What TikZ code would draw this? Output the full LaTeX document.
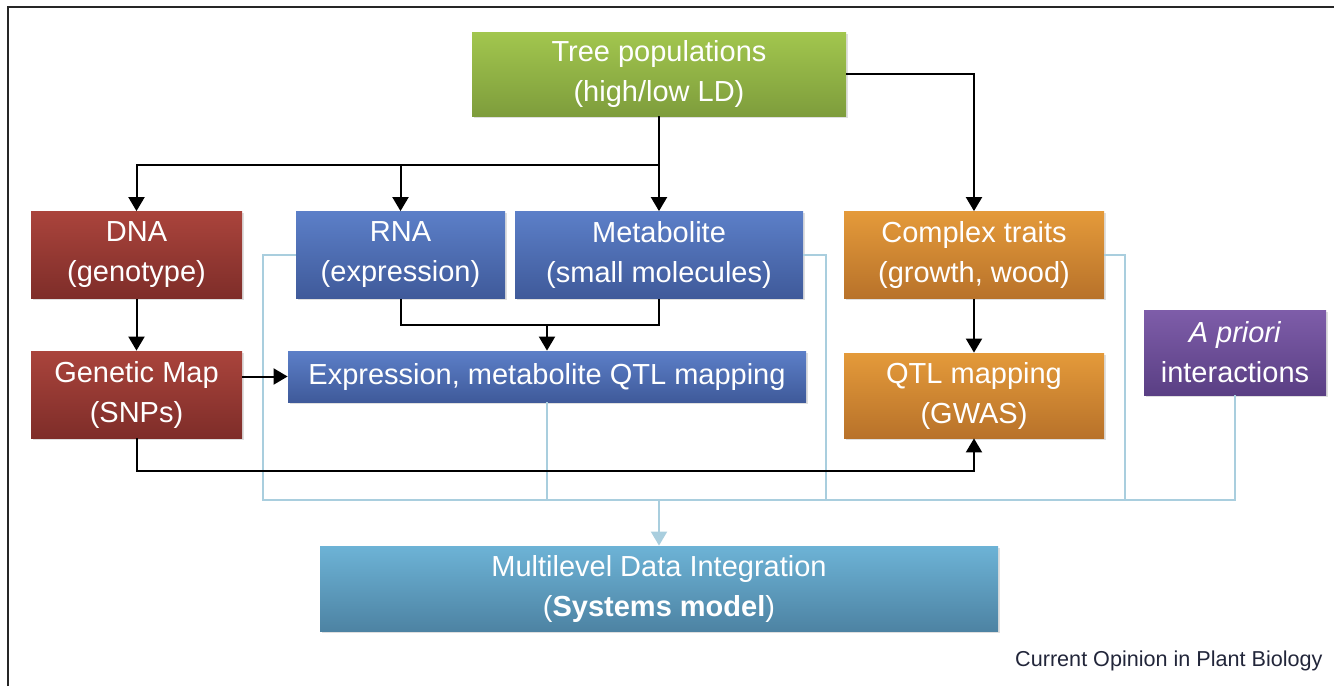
\documentclass[tikz,border=0pt]{standalone}
\usepackage{fontspec}
\setmainfont{Liberation Sans}
\usepackage{tikz}
\usetikzlibrary{arrows.meta,positioning,shadows}
\definecolor{popgreen}{HTML}{A2C64E}
\definecolor{popgreend}{HTML}{7E9D3C}
\definecolor{dnared}{HTML}{AA443C}
\definecolor{dnaredd}{HTML}{7E2D29}
\definecolor{omicblue}{HTML}{5C7FC8}
\definecolor{omicblued}{HTML}{3F5A9A}
\definecolor{traitorange}{HTML}{E49A3A}
\definecolor{traitoranged}{HTML}{B8722A}
\definecolor{prioripurple}{HTML}{7E5DA9}
\definecolor{prioripurpled}{HTML}{5A3F84}
\definecolor{intteal}{HTML}{6DB3D6}
\definecolor{intteald}{HTML}{4D83A3}
\definecolor{feedblue}{HTML}{A9CEDE}
\definecolor{creditink}{HTML}{22263A}

\begin{document}
\begin{tikzpicture}[
    x=0.5pt, y=-0.5pt,
    box/.style={rectangle, inner sep=0pt, align=center, text=white,
      font=\fontsize{14.5pt}{20pt}\selectfont,
      drop shadow={shadow xshift=0.8pt, shadow yshift=-0.8pt, opacity=0.25}},
    boxg/.style={box, top color=popgreen, bottom color=popgreend},
    boxr/.style={box, top color=dnared, bottom color=dnaredd},
    boxb/.style={box, top color=omicblue, bottom color=omicblued},
    boxo/.style={box, top color=traitorange, bottom color=traitoranged},
    boxp/.style={box, top color=prioripurple, bottom color=prioripurpled},
    boxt/.style={box, top color=intteal, bottom color=intteald},
    link/.style={line width=1pt, black},
    arrow/.style={link, -{Triangle[length=7pt, width=8pt]}},
    feed/.style={line width=1pt, draw=feedblue},
    feedarrow/.style={feed, -{Triangle[length=7pt, width=8pt]}},
    credit/.style={font=\fontsize{10.8pt}{13pt}\selectfont, text=creditink, inner sep=0pt}
  ]
    \useasboundingbox (0,0) rectangle (1334,686);
    \draw[line width=1pt, black!85] (8,686) -- (8,7) -- (1334,7);

    \node[boxg, minimum width=187pt, minimum height=42pt] (tree) at (659,74) {Tree populations\\(high/low LD)};
    \node[boxr, minimum width=105.5pt, minimum height=43.5pt] (dna) at (136.5,255) {DNA\\(genotype)};
    \node[boxb, minimum width=104.5pt, minimum height=43.5pt] (rna) at (400.5,255) {RNA\\(expression)};
    \node[boxb, minimum width=144pt, minimum height=43.5pt] (metab) at (659,255) {Metabolite\\(small molecules)};
    \node[boxo, minimum width=130pt, minimum height=43.5pt] (traits) at (974,255) {Complex traits\\(growth, wood)};
    \node[boxr, minimum width=105.5pt, minimum height=43.5pt] (gmap) at (136.5,394.5) {Genetic Map\\(SNPs)};
    \node[boxb, minimum width=259pt, minimum height=25.5pt] (eqtl) at (547,376.5) {Expression, metabolite QTL mapping};
    \node[boxo, minimum width=130pt, minimum height=42.5pt] (qtl) at (974,395.5) {QTL mapping\\(GWAS)};
    \node[boxp, minimum width=91pt, minimum height=42.5pt] (apriori) at (1235,352.5) {\textit{A priori}\\interactions};
    \node[boxt, minimum width=339pt, minimum height=42.5pt] (multi) at (659,588.5) {Multilevel Data Integration\\(\textbf{Systems model})};
    \node[credit, anchor=east] (source) at (1323,661) {Current Opinion in Plant Biology};

    \coordinate (split) at (659,165);
    \coordinate (merge) at (547,325);
    \coordinate (low) at (974,471);
    \coordinate (bus) at (659,500);

    % light blue feeds into the integration box
    \draw[feed] (rna.west) -- ++(-33,0) |- (bus);
    \draw[feed] (metab.east) -- ++(23,0) |- (bus);
    \draw[feed] (traits.east) -- ++(21,0) |- (bus);
    \draw[feed] (apriori) |- (bus);
    \draw[feed] (eqtl) |- (bus);
    \draw[feedarrow] (bus) -- (multi);

    \draw[arrow] (tree) -- (metab);
    \draw[link] (split -| dna) -- (split);
    \draw[arrow] (split) -| (dna);
    \draw[arrow] (split) -| (rna);
    \draw[arrow] (tree) -| (traits);
    \draw[arrow] (dna) -- (gmap);
    \draw[arrow] (gmap.east |- eqtl.west) -- (eqtl.west);
    \draw[link] (rna) |- (merge) -| (metab);
    \draw[arrow] (merge) -- (eqtl);
    \draw[arrow] (traits) -- (qtl);
    \draw[arrow] (gmap) |- (low) -- (qtl);
  \end{tikzpicture}
\end{document}
